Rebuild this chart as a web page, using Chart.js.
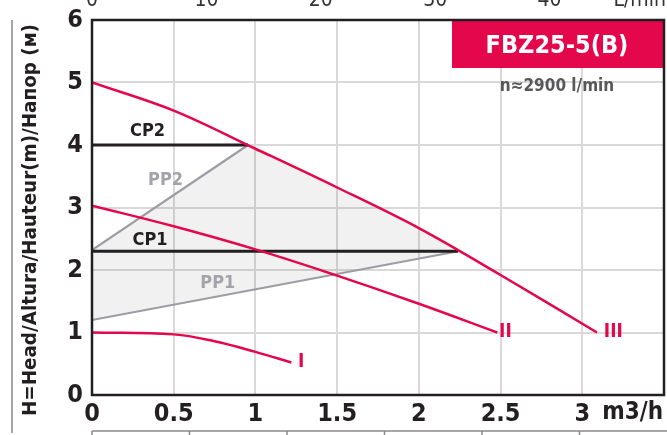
<!DOCTYPE html>
<html>
<head>
<meta charset="utf-8">
<script src="https://cdn.jsdelivr.net/npm/chart.js@4"></script>
<style>
    html, body { margin: 0; padding: 0; background: #fff; overflow: hidden; }
    #wrap { position: absolute; left: 0; top: -10px; width: 667px; height: 445px; }
</style>
</head>
<body>
<div id="wrap"><canvas id="pumpChart" width="667" height="445"></canvas></div>
<script>
    // 곡선 데이터 (m3/h, m)
    const flowI = [0, 0.5, 0.75, 1, 1.22];
    const headI = [1.0, 0.97, 0.86, 0.69, 0.52];

    const flowII = [0, 0.5, 1, 1.5, 2, 2.48];
    const headII = [3.03, 2.7, 2.33, 1.91, 1.46, 1.0];

    const flowIII = [0, 0.5, 1, 1.5, 2, 2.5, 3.09];
    const headIII = [5.0, 4.55, 3.94, 3.32, 2.67, 1.92, 1.0];

    // CP / PP 제어선
    const cp2Flow = [0, 0.955], cp2Head = [4.0, 4.0];
    const cp1Flow = [0, 2.24], cp1Head = [2.3, 2.3];
    const pp2Flow = [0, 0.955], pp2Head = [2.32, 4.0];
    const pp1Flow = [0, 2.24], pp1Head = [1.2, 2.3];

    // 회색 영역
    const zoneFlow = [0, 2.24, 2, 1.5, 1, 0.955, 0];
    const zoneHead = [1.2, 2.3, 2.67, 3.32, 3.94, 4.0, 2.32];

    // 축 눈금
    const flowTicks = [0, 0.5, 1, 1.5, 2, 2.5, 3];
    const headTicks = [0, 1, 2, 3, 4, 5, 6];
    const lminTicks = [0, 10, 20, 30, 40];

    // 글자 라벨
    const noteText = ['CP2', 'CP1', 'PP2', 'PP1', 'I', 'II', 'III'];
    const noteFlow = [0.34, 0.355, 0.45, 0.77, 1.28, 2.53, 3.19];
    const noteHead = [4.22, 2.48, 3.44, 1.79, 0.53, 1.0, 1.0];

    const RED = '#e4074c';
    const FONT = "'Liberation Sans Narrow', 'DejaVu Sans Condensed', 'Roboto', sans-serif";

    function pts(xs, ys) {
        return xs.map((x, i) => ({ x: x, y: ys[i] }));
    }

    function curve(xs, ys, color, width, extra) {
        return Object.assign({
            data: pts(xs, ys),
            borderColor: color,
            borderWidth: width,
            pointRadius: 0,
            showLine: true,
            fill: false,
            tension: 0
        }, extra || {});
    }

    // 텍스트, 테두리 등 그리기
    const decorPlugin = {
        id: 'decor',
        afterDatasetsDraw(chart) {
            const ctx = chart.ctx;
            const xs = chart.scales.x, ys = chart.scales.y;
            ctx.save();
            ctx.textAlign = 'center';
            ctx.textBaseline = 'middle';
            noteText.forEach((t, i) => {
                let color = '#231f20';
                if (t.startsWith('PP')) color = '#a3a3ab';
                if (t.startsWith('I')) color = RED;
                ctx.fillStyle = color;
                ctx.font = 'bold ' + (t.startsWith('I') ? 19 : 18) + 'px ' + FONT;
                ctx.fillText(t, xs.getPixelForValue(noteFlow[i]), ys.getPixelForValue(noteHead[i]));
            });
            ctx.restore();
        },
        afterDraw(chart) {
            const ctx = chart.ctx;
            const a = chart.chartArea;
            ctx.save();

            // 빨간 제목 상자
            ctx.fillStyle = RED;
            ctx.fillRect(452, 31, a.right - 452, 47);
            ctx.fillStyle = '#ffffff';
            ctx.font = 'bold 25px ' + FONT;
            ctx.textAlign = 'center';
            ctx.textBaseline = 'middle';
            ctx.fillText('FBZ25-5(B)', 557, 56);
            ctx.fillStyle = '#58585a';
            ctx.font = 'bold 17px ' + FONT;
            ctx.fillText('n\u22482900 l/min', 557, 97);

            // 외곽 테두리
            ctx.strokeStyle = '#231f20';
            ctx.lineWidth = 2.5;
            ctx.strokeRect(a.left, a.top, a.right - a.left, a.bottom - a.top);

            // 단위
            ctx.fillStyle = '#231f20';
            ctx.font = 'bold 24px ' + FONT;
            ctx.textAlign = 'right';
            ctx.fillText('m3/h', 663, 423);
            ctx.font = '21px ' + FONT;
            ctx.fillStyle = '#333333';
            ctx.fillText('L/min', 666, 11);

            // 세로축 제목
            ctx.save();
            ctx.translate(31, 230);
            ctx.rotate(-Math.PI / 2);
            ctx.font = 'bold 20px ' + FONT;
            const title = 'H=Head/Altura/Hauteur(m)/\u041d\u0430\u043f\u043e\u0440 (\u043c)';
            const w = ctx.measureText(title).width;
            ctx.scale(392 / w, 1);
            ctx.textAlign = 'center';
            ctx.fillStyle = '#231f20';
            ctx.fillText(title, 0, 0);
            ctx.restore();

            // 왼쪽 가는 선과 아래 표 흔적
            ctx.strokeStyle = '#8a8a8a';
            ctx.lineWidth = 1.5;
            ctx.beginPath();
            ctx.moveTo(12, 30);
            ctx.lineTo(12, 443);
            ctx.moveTo(a.left, 441);
            ctx.lineTo(667, 441);
            for (let k = 0; k < 6; k++) {
                const px = a.left + k * 97.5;
                ctx.moveTo(px, 441);
                ctx.lineTo(px, 446);
            }
            ctx.stroke();
            ctx.restore();
        }
    };

    function createPumpChart() {
        const ctx = document.getElementById('pumpChart').getContext('2d');

        new Chart(ctx, {
            type: 'scatter',
            data: {
                datasets: [
                    curve(flowIII, headIII, RED, 2.5, { tension: 0.35 }),
                    curve(flowII, headII, RED, 2.5, { tension: 0.4 }),
                    curve(flowI, headI, RED, 2.5, { tension: 0.4 }),
                    curve(cp2Flow, cp2Head, '#231f20', 3),
                    curve(cp1Flow, cp1Head, '#231f20', 3),
                    curve(pp2Flow, pp2Head, '#9c9ca5', 2.2),
                    curve(pp1Flow, pp1Head, '#9c9ca5', 2.2),
                    curve(zoneFlow, zoneHead, 'rgba(0,0,0,0)', 0, {
                        fill: 'shape',
                        backgroundColor: 'rgba(0,0,0,0.055)',
                        order: 10
                    })
                ]
            },
            options: {
                responsive: false,
                animation: false,
                events: [],
                layout: { padding: { left: 0, right: 3, top: 0, bottom: 0 } },
                plugins: {
                    legend: { display: false },
                    tooltip: { enabled: false }
                },
                scales: {
                    x: {
                        type: 'linear',
                        position: 'bottom',
                        min: 0,
                        max: 3.5,
                        afterBuildTicks: s => { s.ticks = flowTicks.map(v => ({ value: v })); },
                        afterFit: s => { s.height = 40; },
                        grid: { color: '#d9d9d9', lineWidth: 2, drawTicks: false },
                        border: { display: false },
                        ticks: {
                            padding: 4,
                            color: '#231f20',
                            font: { family: FONT, size: 25, weight: 'bold' },
                            maxRotation: 0,
                            callback: v => String(v)
                        }
                    },
                    x2: {
                        type: 'linear',
                        position: 'top',
                        min: 0,
                        max: 50,
                        afterBuildTicks: s => { s.ticks = lminTicks.map(v => ({ value: v })); },
                        afterFit: s => { s.height = 30; },
                        grid: { display: false, drawTicks: false },
                        border: { display: false },
                        ticks: {
                            padding: 7,
                            color: '#333333',
                            font: { family: FONT, size: 21 },
                            maxRotation: 0,
                            callback: v => String(v)
                        }
                    },
                    y: {
                        type: 'linear',
                        min: 0,
                        max: 6,
                        afterBuildTicks: s => { s.ticks = headTicks.map(v => ({ value: v })); },
                        afterFit: s => { s.width = 92; },
                        grid: { color: '#d9d9d9', lineWidth: 2, drawTicks: false },
                        border: { display: false },
                        ticks: {
                            padding: 9,
                            color: '#231f20',
                            font: { family: FONT, size: 25, weight: 'bold' },
                            callback: v => String(v)
                        }
                    }
                }
            },
            plugins: [decorPlugin]
        });
    }

    createPumpChart();
</script>
</body>
</html>
